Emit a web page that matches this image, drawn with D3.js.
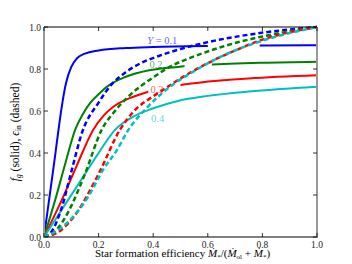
<!DOCTYPE html>
<html>
<head>
<meta charset="utf-8">
<script src="https://cdn.jsdelivr.net/npm/d3@7"></script>
<style>
  body { margin: 0; background: #fff; }
  svg { display: block; font-family: 'Liberation Serif', 'DejaVu Serif', serif; }
</style>
</head>
<body>
<div id="chart"></div>
<script>
// Data
const yields = ['0.1', '0.2', '0.3', '0.4'];
const colors = ['#0000ff', '#008000', '#ff0000', '#00bfbf'];

// gas fraction f_g (solid)
const fgBlue = [[0, 0], [0.02, 0.19], [0.04, 0.38], [0.052, 0.5], [0.065, 0.62], [0.08, 0.73], [0.1, 0.81], [0.12, 0.85], [0.15, 0.873], [0.2, 0.888], [0.3, 0.9], [0.4, 0.905], [0.6, 0.91], [0.8, 0.912], [1, 0.913]];
const fgGreen = [[0, 0], [0.044, 0.19], [0.08, 0.36], [0.114, 0.51], [0.14, 0.58], [0.17, 0.64], [0.2, 0.68], [0.23, 0.715], [0.3, 0.763], [0.39, 0.795], [0.49, 0.81], [0.6, 0.82], [0.8, 0.83], [1, 0.835]];
const fgRed = [[0, 0], [0.07, 0.19], [0.12, 0.34], [0.18, 0.51], [0.22, 0.58], [0.254, 0.62], [0.327, 0.668], [0.382, 0.692], [0.5, 0.724], [0.6, 0.74], [0.75, 0.755], [1, 0.77]];
const fgCyan = [[0, 0], [0.05, 0.1], [0.095, 0.19], [0.15, 0.3], [0.2, 0.4], [0.26, 0.51], [0.327, 0.573], [0.4, 0.613], [0.49, 0.648], [0.6, 0.672], [0.75, 0.693], [1, 0.716]];

// inflow efficiency eps_in (dashed)
const epsBlue = [[0, 0], [0.03, 0.03], [0.065, 0.14], [0.1, 0.31], [0.14, 0.5], [0.2, 0.64], [0.25, 0.73], [0.3, 0.785], [0.35, 0.825], [0.42, 0.862], [0.5, 0.895], [0.6, 0.928], [0.7, 0.953], [0.85, 0.981], [1, 1]];
const epsGreen = [[0, 0], [0.05, 0.04], [0.089, 0.12], [0.15, 0.3], [0.211, 0.51], [0.26, 0.6], [0.315, 0.676], [0.4, 0.76], [0.46, 0.81], [0.55, 0.86], [0.65, 0.905], [0.8, 0.955], [1, 1]];
const epsRed = [[0, 0], [0.06, 0.03], [0.114, 0.105], [0.2, 0.3], [0.278, 0.51], [0.33, 0.6], [0.4, 0.67], [0.45, 0.712], [0.5, 0.755], [0.6, 0.828], [0.7, 0.888], [0.8, 0.94], [1, 1]];
const epsCyan = [[0, 0], [0.033, 0.019], [0.106, 0.095], [0.161, 0.19], [0.216, 0.319], [0.267, 0.414], [0.309, 0.51], [0.38, 0.62], [0.46, 0.714], [0.55, 0.79], [0.65, 0.86], [0.8, 0.935], [1, 1]];

// where the solid lines are broken
const gaps = [[0.6, 0.79], [0.515, 0.615], [0.382, 0.5], null];

// curve labels: [x, y] in data units (left end of baseline)
const labelPos = [[0.378, 0.918], [0.386, 0.805], [0.39, 0.686], [0.392, 0.548]];

const ticks = [0, 0.2, 0.4, 0.6, 0.8, 1.0];

const fgSeries = [fgBlue, fgGreen, fgRed, fgCyan];
const epsSeries = [epsBlue, epsGreen, epsRed, epsCyan];

const width = 352;
const height = 264;
const margin = { t: 27, r: 35, b: 27, l: 44 };

const svg = d3
  .select('#chart')
  .append('svg')
  .attr('width', width)
  .attr('height', height);

const x = d3.scaleLinear().domain([0, 1]).range([margin.l, width - margin.r]);
const y = d3.scaleLinear().domain([0, 1]).range([height - margin.b, margin.t]);

const line = d3
  .line()
  .x((d) => x(d[0]))
  .y((d) => y(d[1]))
  .curve(d3.curveMonotoneX);

// clip to the axes box
svg
  .append('clipPath')
  .attr('id', 'box')
  .append('rect')
  .attr('x', x(0))
  .attr('y', y(1) - 2)
  .attr('width', x(1) - x(0))
  .attr('height', y(0) - y(1) + 2);

const plot = svg.append('g').attr('clip-path', 'url(#box)');

// solid lines, with their breaks
fgSeries.forEach((s, i) => {
  let clip = 'url(#box)';
  if (gaps[i]) {
    const cp = svg.append('clipPath').attr('id', `gap${i}`);
    cp.append('rect')
      .attr('x', x(0))
      .attr('y', 0)
      .attr('width', x(gaps[i][0]) - x(0))
      .attr('height', height);
    cp.append('rect')
      .attr('x', x(gaps[i][1]))
      .attr('y', 0)
      .attr('width', x(1) - x(gaps[i][1]))
      .attr('height', height);
    clip = `url(#gap${i})`;
  }
  plot
    .append('path')
    .attr('d', line(s))
    .attr('clip-path', clip)
    .attr('fill', 'none')
    .attr('stroke', colors[i])
    .attr('stroke-width', 2);
});

// dashed lines
epsSeries.forEach((s, i) => {
  plot
    .append('path')
    .attr('d', line(s))
    .attr('fill', 'none')
    .attr('stroke', colors[i])
    .attr('stroke-width', 2.5)
    .attr('stroke-dasharray', '5,3');
});

// labels
labelPos.forEach((p, i) => {
  const t = svg
    .append('text')
    .attr('x', x(p[0]))
    .attr('y', y(p[1]))
    .attr('fill', colors[i])
    .attr('fill-opacity', 0.65)
    .attr('font-size', 10.5);
  if (i === 0) {
    t.append('tspan').attr('font-style', 'italic').text('Y');
    t.append('tspan').text(` = ${yields[i]}`);
  } else {
    t.text(yields[i]);
  }
});

// frame: top and bottom black, left and right grey
svg.append('line')
  .attr('x1', x(0)).attr('x2', x(1)).attr('y1', y(1)).attr('y2', y(1))
  .attr('stroke', '#000').attr('stroke-width', 1);
svg.append('line')
  .attr('x1', x(0)).attr('x2', x(1)).attr('y1', y(0)).attr('y2', y(0))
  .attr('stroke', '#000').attr('stroke-width', 1);
svg.append('line')
  .attr('x1', x(0)).attr('x2', x(0)).attr('y1', y(1)).attr('y2', y(0) + 1)
  .attr('stroke', '#999').attr('stroke-width', 2);
svg.append('line')
  .attr('x1', x(1)).attr('x2', x(1)).attr('y1', y(1)).attr('y2', y(0) + 1)
  .attr('stroke', '#999').attr('stroke-width', 2);

// ticks (inward, on all four sides)
const tl = 4;
ticks.forEach((t) => {
  svg.append('line')
    .attr('x1', x(t)).attr('x2', x(t)).attr('y1', y(0)).attr('y2', y(0) - tl)
    .attr('stroke', '#000').attr('stroke-width', 0.8);
  svg.append('line')
    .attr('x1', x(t)).attr('x2', x(t)).attr('y1', y(1)).attr('y2', y(1) + tl)
    .attr('stroke', '#000').attr('stroke-width', 0.8);
  svg.append('line')
    .attr('x1', x(0)).attr('x2', x(0) + tl).attr('y1', y(t)).attr('y2', y(t))
    .attr('stroke', '#000').attr('stroke-width', 0.8);
  svg.append('line')
    .attr('x1', x(1)).attr('x2', x(1) - tl).attr('y1', y(t)).attr('y2', y(t))
    .attr('stroke', '#000').attr('stroke-width', 0.8);

  svg.append('text')
    .attr('x', x(t))
    .attr('y', y(0) + 11)
    .attr('text-anchor', 'middle')
    .attr('font-size', 9.5)
    .attr('fill', '#222')
    .text(t.toFixed(1));
  svg.append('text')
    .attr('x', x(0) - 3)
    .attr('y', y(t) + 3.5)
    .attr('text-anchor', 'end')
    .attr('font-size', 9.5)
    .attr('fill', '#222')
    .text(t.toFixed(1));
});

// x label
const xl = svg.append('text')
  .attr('x', (x(0) + x(1)) / 2 + 2)
  .attr('y', height - 7)
  .attr('text-anchor', 'middle')
  .attr('font-size', 11)
  .attr('fill', '#000');
xl.append('tspan').text('Star formation efficiency ');
xl.append('tspan').attr('font-style', 'italic').text('\u1E40');
xl.append('tspan').attr('font-size', 7).attr('dy', 2).text('*');
xl.append('tspan').attr('dy', -2).text('/(');
xl.append('tspan').attr('font-style', 'italic').text('\u1E40');
xl.append('tspan').attr('font-size', 7).attr('dy', 2).text('ol');
xl.append('tspan').attr('dy', -2).text(' + ');
xl.append('tspan').attr('font-style', 'italic').text('\u1E40');
xl.append('tspan').attr('font-size', 7).attr('dy', 2).text('*');
xl.append('tspan').attr('dy', -2).text(')');

// y label
const yl = svg.append('text')
  .attr('transform', `translate(19,${(y(0) + y(1)) / 2}) rotate(-90)`)
  .attr('text-anchor', 'middle')
  .attr('font-size', 11.5)
  .attr('fill', '#000');
yl.append('tspan').attr('font-style', 'italic').text('f');
yl.append('tspan').attr('font-size', 7.5).attr('font-style', 'italic').attr('dy', 2).text('g');
yl.append('tspan').attr('dy', -2).text(' (solid), ');
yl.append('tspan').attr('font-style', 'italic').text('\u03F5');
yl.append('tspan').attr('font-size', 7.5).attr('dy', 2).text('in');
yl.append('tspan').attr('dy', -2).text(' (dashed)');
</script>
</body>
</html>
